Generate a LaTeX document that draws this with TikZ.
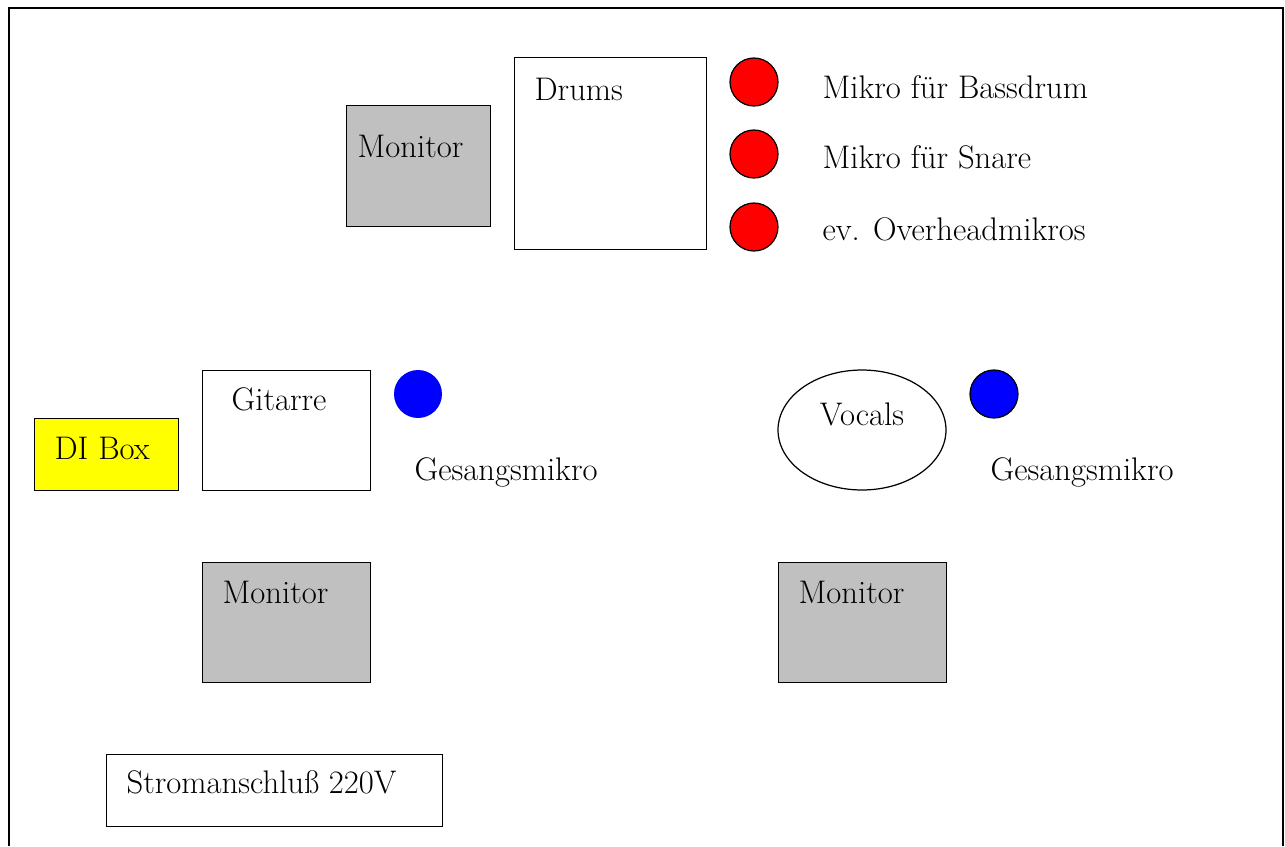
\documentclass[tikz,border=0pt]{standalone}
\usetikzlibrary{shapes.geometric}
\definecolor{monigray}{RGB}{192,192,192}
\definecolor{diyellow}{RGB}{255,255,0}
\definecolor{micred}{RGB}{255,0,0}
\definecolor{micblue}{RGB}{0,0,255}
\begin{document}
\begin{tikzpicture}[x=0.02cm, y=-0.02cm, line width=0.7pt,
    box/.style = {draw, rectangle, inner sep=0, anchor=north west},
    moni/.style = {box, fill=monigray},
    mic/.style = {draw, circle, inner sep=0, minimum size=0.96cm},
    txt/.style = {anchor=base west, inner sep=0, font=\fontsize{18.6}{22}\selectfont}]

            \useasboundingbox (0,0) rectangle (1285,846);

            % Frame
            \coordinate (F0) at (9,846);
            \coordinate (F1) at (9,8);
            \coordinate (F2) at (1283,8);
            \coordinate (F3) at (1283,846);
            \draw[line width=0.8pt] (F0) -- (F1) -- (F2) -- (F3);

            % Boxes
            \node[moni, minimum width=2.88cm, minimum height=2.42cm] (M0) at (346,105) {};
            \node[box, minimum width=3.84cm, minimum height=3.84cm] (Dr) at (514,57) {};
            \node[box, minimum width=3.36cm, minimum height=2.4cm] (Gi) at (202,370) {};
            \node[box, fill=diyellow, minimum width=2.88cm, minimum height=1.44cm] (DI) at (34,418) {};
            \node[draw, ellipse, minimum width=3.36cm, minimum height=2.4cm] (Vo) at (862,430) {};
            \node[moni, minimum width=3.36cm, minimum height=2.4cm] (M1) at (202,562) {};
            \node[moni, minimum width=3.36cm, minimum height=2.4cm] (M2) at (778,562) {};
            \node[box, minimum width=6.72cm, minimum height=1.44cm] (St) at (106,754) {};

            % Mikros
            \node[mic, fill=micred] (R0) at (754,82) {};
            \node[mic, fill=micred] (R1) at (754,154) {};
            \node[mic, fill=micred] (R2) at (754,227) {};
            \node[mic, fill=micblue, draw=none] (B0) at (418,394) {};
            \node[mic, fill=micblue] (B1) at (994,394) {};

            % Texts
            \node[txt] (tM0) at (357,157) {Monitor};
            \node[txt] (tDr) at (534,100) {Drums};
            \node[txt] (tR0) at (822,98) {Mikro für Bassdrum};
            \node[txt] (tR1) at (822,168) {Mikro für Snare};
            \node[txt] (tR2) at (822,240) {ev. Overheadmikros};
            \node[txt] (tGi) at (231,410) {Gitarre};
            \node[txt] (tDI) at (54,459) {DI Box};
            \node[txt, anchor=base] (tVo) at (862,425) {Vocals};
            \node[txt] (tB0) at (414,480) {Gesangsmikro};
            \node[txt] (tB1) at (990,480) {Gesangsmikro};
            \node[txt] (tM1) at (222,603) {Monitor};
            \node[txt] (tM2) at (798,603) {Monitor};
            \node[txt] (tSt) at (126,793) {Stromanschluß 220V};
        \end{tikzpicture}
\end{document}
